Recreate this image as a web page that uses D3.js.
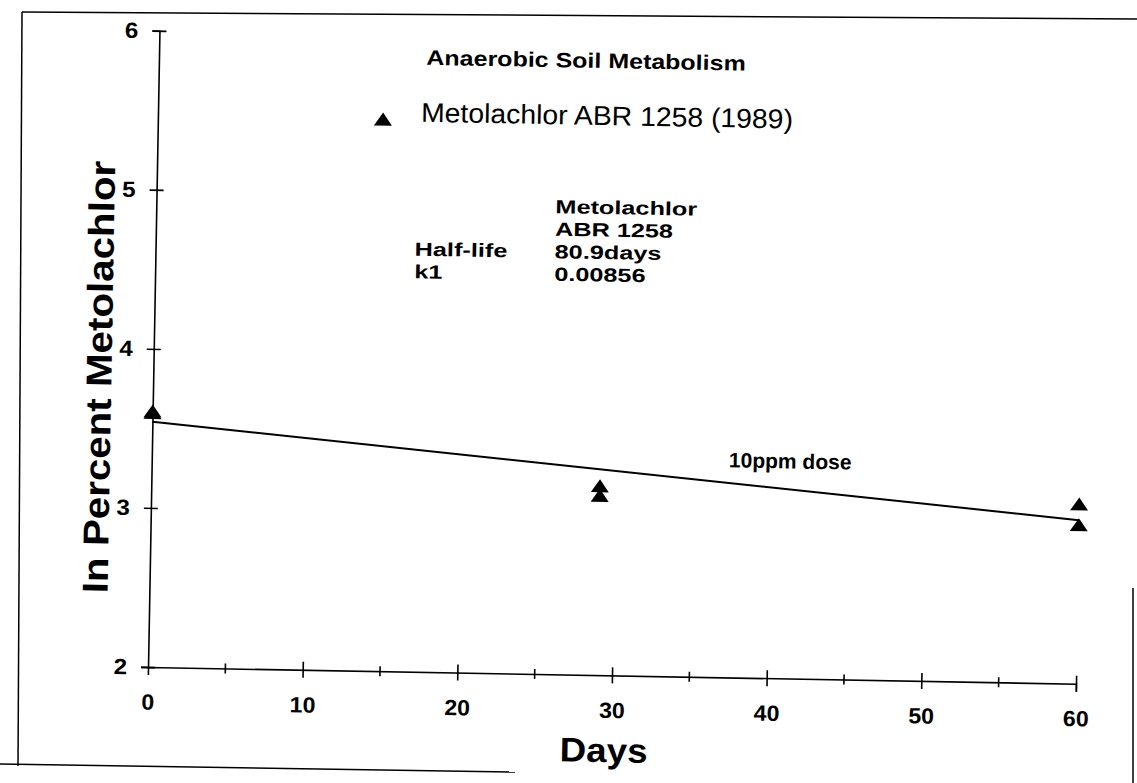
<!DOCTYPE html>
<html>
<head>
<meta charset="utf-8">
<script src="https://cdn.jsdelivr.net/npm/d3@7"></script>
<style>
  body { margin: 0; background: #fff; }
  svg { display: block; }
  text { font-family: "Liberation Sans", Arial, sans-serif; fill: #000; }
  .axis path, .axis line { stroke: #000; stroke-width: 1.6; }
  .axis text { font-size: 22px; font-weight: bold; }
</style>
</head>
<body>
<div id="chart"></div>
<script>
// measured points: days and ln(% metolachlor remaining)
const days = [0, 0, 29, 29, 60, 60];
const lnPercent = [3.61, 3.60, 3.19, 3.13, 3.13, 3.00];

// first-order fit line as drawn in the picture
const fitDays = [0, 60];
const fitLn = [3.542, 3.028];

const xTicks = [0, 10, 20, 30, 40, 50, 60];
const xMinorTicks = [5, 15, 25, 35, 45, 55];
const yTicks = [2, 3, 4, 5, 6];

const seriesName = 'Metolachlor ABR 1258 (1989)';
const statLabels = ['', '', 'Half-life', 'k1'];
const statValues = ['Metolachlor', 'ABR 1258', '80.9days', '0.00856'];

const width = 1137, height = 783;

// the scanned lettering is a bit wider than the font, so stretch it
function stretch(sel, k) {
    sel.each(function () {
        const w = this.getComputedTextLength();
        d3.select(this)
            .attr('textLength', w * k)
            .attr('lengthAdjust', 'spacingAndGlyphs');
    });
    return sel;
}

const svg = d3.select('#chart')
    .append('svg')
    .attr('width', width)
    .attr('height', height);

// outer frame of the scanned page
const frame = svg.append('g')
    .attr('fill', 'none')
    .attr('stroke', '#000')
    .attr('stroke-width', 1.5);
frame.append('line').attr('x1', 22).attr('y1', 12).attr('x2', 1137).attr('y2', 19);
frame.append('line').attr('x1', 22).attr('y1', 12).attr('x2', 18).attr('y2', 766);
frame.append('line').attr('x1', 0).attr('y1', 764).attr('x2', 515).attr('y2', 772);
frame.append('line').attr('x1', 1133).attr('y1', 588).attr('x2', 1133).attr('y2', 783);

// the scan is tilted about one degree
const g = svg.append('g')
    .attr('transform', 'rotate(1.03, 600, 400)');

const x = d3.scaleLinear().domain([0, 60]).range([152.9, 1081]);
const y = d3.scaleLinear().domain([2, 6]).range([675.1, 38.7]);

// y axis with crossing ticks
const yAxisG = g.append('g')
    .attr('class', 'axis')
    .attr('transform', `translate(${x(0)},0)`)
    .call(d3.axisLeft(y).tickValues(yTicks).tickFormat(d3.format('d')).tickSize(7).tickPadding(14));
yAxisG.selectAll('.tick line').attr('x1', 7);
stretch(yAxisG.selectAll('.tick text'), 1.1);

// x axis: major ticks every 10, minor every 5
const xAxisG = g.append('g')
    .attr('class', 'axis')
    .attr('transform', `translate(0,${y(2)})`)
    .call(d3.axisBottom(x).tickValues(xTicks).tickFormat(d3.format('d')).tickSize(8).tickPadding(19));
xAxisG.selectAll('.tick line').attr('y1', -8);
xAxisG.selectAll('.tick').filter(d => d === 0).select('line').remove();
stretch(xAxisG.selectAll('.tick text'), 1.05);

xAxisG.selectAll('.minor')
    .data(xMinorTicks)
    .join('line')
    .attr('class', 'minor')
    .attr('x1', d => x(d)).attr('x2', d => x(d))
    .attr('y1', -5).attr('y2', 5)
    .attr('stroke', '#000')
    .attr('stroke-width', 1.4);

// fit line
const line = d3.line()
    .x(d => x(d[0]))
    .y(d => y(d[1]));
g.append('path')
    .datum(d3.zip(fitDays, fitLn))
    .attr('fill', 'none')
    .attr('stroke', '#000')
    .attr('stroke-width', 2)
    .attr('d', line);

// triangle markers
const tri = 'M0,-6.5L9,6.5L-9,6.5Z';
g.selectAll('.pt')
    .data(d3.zip(days, lnPercent))
    .join('path')
    .attr('class', 'pt')
    .attr('d', tri)
    .attr('transform', d => `translate(${x(d[0])},${y(d[1])})`)
    .attr('fill', '#000');

// axis titles
g.append('text')
    .attr('transform', 'translate(111,386) rotate(-90)')
    .attr('text-anchor', 'middle')
    .style('font-size', '36px')
    .style('font-weight', 'bold')
    .text('In Percent Metolachlor')
    .call(stretch, 1.12);

g.append('text')
    .attr('x', 610).attr('y', 762)
    .attr('text-anchor', 'middle')
    .style('font-size', '34px')
    .style('font-weight', 'bold')
    .text('Days')
    .call(stretch, 1.08);

// title
g.append('text')
    .attr('x', 580).attr('y', 68)
    .attr('text-anchor', 'middle')
    .style('font-size', '21px')
    .style('font-weight', 'bold')
    .text('Anaerobic Soil Metabolism')
    .call(stretch, 1.19);

// legend
g.append('path')
    .attr('d', tri)
    .attr('transform', 'translate(378,123)')
    .attr('fill', '#000');
g.append('text')
    .attr('x', 416).attr('y', 125)
    .style('font-size', '27px')
    .text(seriesName)
    .call(stretch, 1.05);

// half-life table
const stats = g.append('g')
    .style('font-size', '19px')
    .style('font-weight', 'bold');
stats.selectAll('.lab')
    .data(statLabels)
    .join('text')
    .attr('class', 'lab')
    .attr('x', 412)
    .attr('y', (d, i) => 214 + i * 22.5)
    .text(d => d)
    .call(stretch, 1.33);
stats.selectAll('.val')
    .data(statValues)
    .join('text')
    .attr('class', 'val')
    .attr('x', 552)
    .attr('y', (d, i) => 214 + i * 22.5)
    .text(d => d)
    .call(stretch, 1.33);

g.append('text')
    .attr('x', 730).attr('y', 465)
    .style('font-size', '21px')
    .style('font-weight', 'bold')
    .text('10ppm dose');
</script>
</body>
</html>
